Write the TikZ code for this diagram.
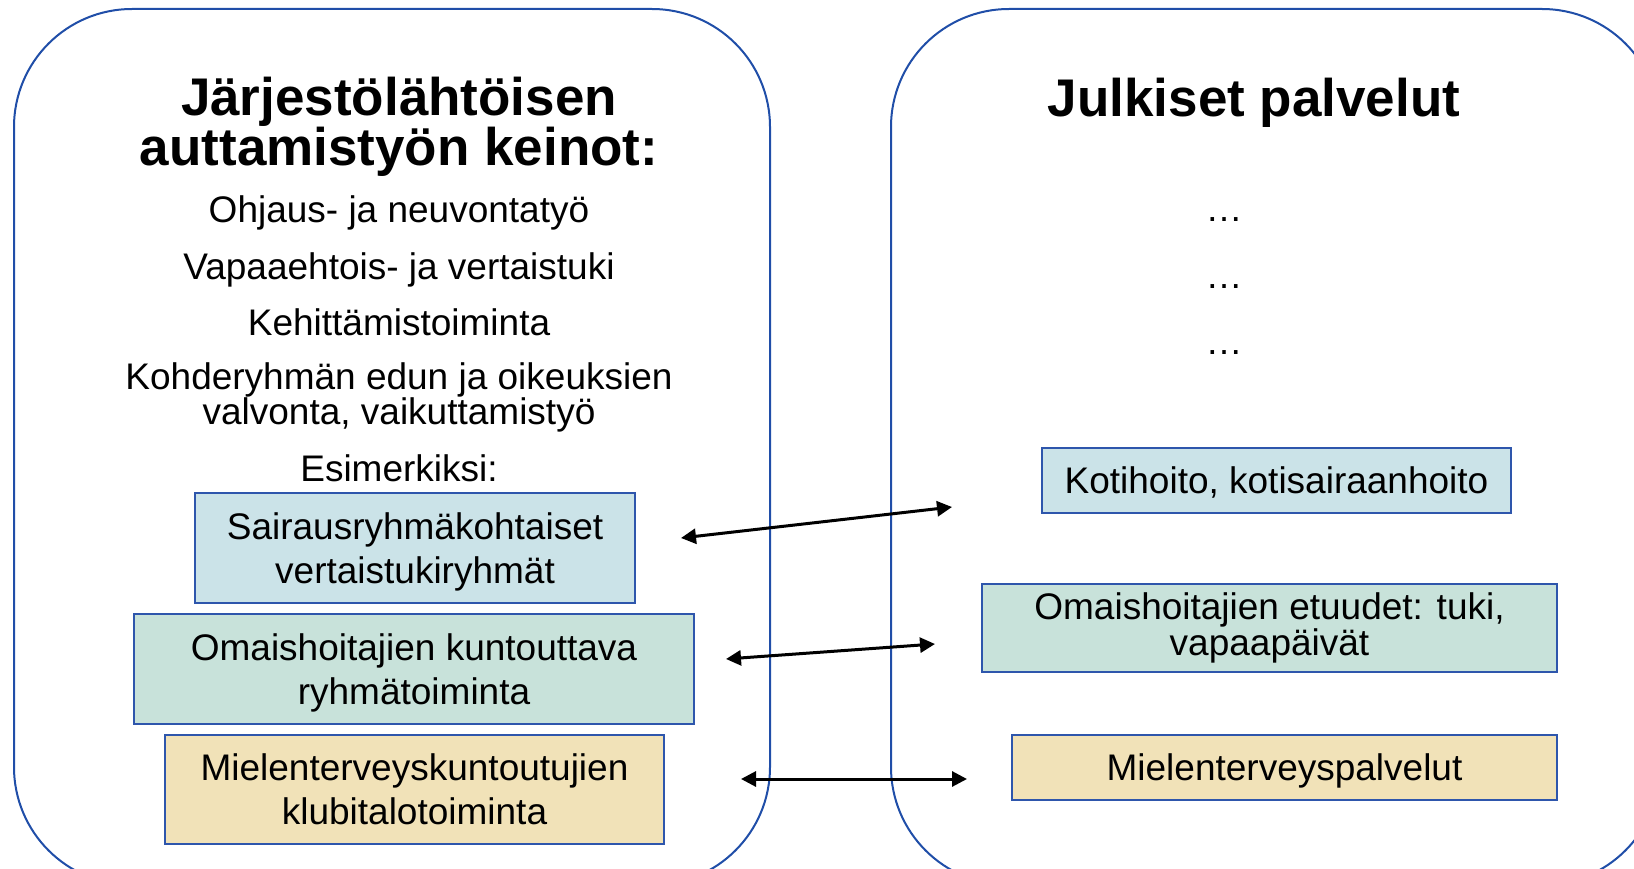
\documentclass[tikz,border=0pt]{standalone}
\usepackage{fontspec}
\setmainfont{Liberation Sans}
\usetikzlibrary{arrows.meta}

\definecolor{panelblue}{RGB}{32,78,168}
\definecolor{boxblue}{RGB}{46,86,172}
\definecolor{fillblue}{RGB}{203,227,232}
\definecolor{fillgreen}{RGB}{200,226,218}
\definecolor{filltan}{RGB}{241,226,184}

\begin{document}
\begin{tikzpicture}[x=1pt, y=-1pt,
    every node/.style={align=center, font=\fontsize{37}{44}\selectfont},
    title/.style={font=\fontsize{53}{49}\selectfont\bfseries},
    panel/.style={draw=panelblue, line width=2pt, rounded corners=118pt},
    item/.style={draw=boxblue, line width=2.5pt, inner sep=0pt, text depth=0pt},
    link/.style={{Triangle[length=15pt,width=15pt]}-{Triangle[length=15pt,width=15pt]}, line width=3pt, black}]

			\useasboundingbox (0,0) rectangle (1634,869);
			\clip (0,0) rectangle (1634,869);
			% Panels
			\draw[panel] (14,9) rectangle (770,885);
			\draw[panel] (891,9) rectangle (1660,885);
			% Nodes left panel
			\node[title] (lefttitle) at (399,127) {Järjestölähtöisen\\auttamistyön keinot:};
			\node (ohjaus) at (399,213) {Ohjaus- ja neuvontatyö};
			\node (vapaa) at (399,270) {Vapaaehtois- ja vertaistuki};
			\node (kehitys) at (399,322) {Kehittämistoiminta};
			\node[font=\fontsize{37}{35}\selectfont] (kohde) at (399,397) {Kohderyhmän edun ja oikeuksien\\valvonta, vaikuttamistyö};
			\node (esim) at (399,468) {Esimerkiksi:};
			\node[item, fill=fillblue, minimum width=440pt, minimum height=110pt] (sairaus) at (415,548) {Sairausryhmäkohtaiset\\vertaistukiryhmät};
			\node[item, fill=fillgreen, minimum width=560pt, minimum height=110pt] (omaisryhma) at (414,669) {Omaishoitajien kuntouttava\\ryhmätoiminta};
			\node[item, fill=filltan, minimum width=499pt, minimum height=109pt] (klubi) at (414.5,789.5) {Mielenterveyskuntoutujien\\klubitalotoiminta};
			% Nodes right panel
			\node[title] (righttitle) at (1254,103) {Julkiset palvelut};
			\node (dots1) at (1224,220) {…};
			\node (dots2) at (1224,287) {…};
			\node (dots3) at (1224,353) {…};
			\node[item, fill=fillblue, minimum width=469pt, minimum height=65pt] (koti) at (1276.5,480.5) {Kotihoito, kotisairaanhoito};
			\node[item, fill=fillgreen, minimum width=575pt, minimum height=88pt, text depth=8pt, font=\fontsize{37}{34}\selectfont] (etuudet) at (1269.5,628) {Omaishoitajien etuudet: tuki,\\vapaapäivät};
			\node[item, fill=filltan, minimum width=545pt, minimum height=65pt] (palvelut) at (1284.5,767.5) {Mielenterveyspalvelut};
			% Arrow ends
			\coordinate (a1) at (681,538);
			\coordinate (b1) at (952,507);
			\coordinate (a2) at (726,659);
			\coordinate (b2) at (935,644);
			\coordinate (a3) at (741,779);
			\coordinate (b3) at (967,779);
			% Arrows
			\draw[link] (a1) -- (b1);
			\draw[link] (a2) -- (b2);
			\draw[link] (a3) -- (b3);
		\end{tikzpicture}
\end{document}
